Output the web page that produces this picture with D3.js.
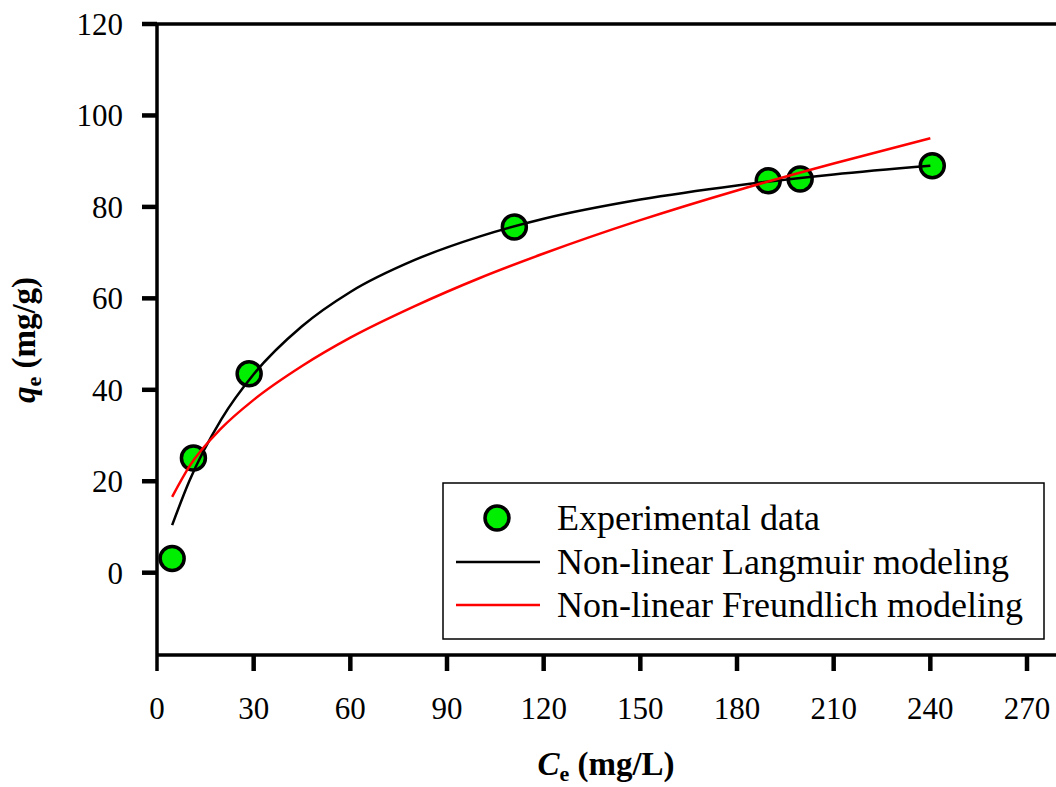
<!DOCTYPE html>
<html>
<head>
<meta charset="utf-8">
<script src="https://cdn.jsdelivr.net/npm/d3@7"></script>
<style>
  body { margin: 0; background: #fff; }
  text { font-family: "Liberation Serif", "Times New Roman", serif; fill: #000; }
  .tick-label { font-size: 31px; }
  .axis-title { font-size: 33px; font-weight: bold; }
  .legend-text { font-size: 36px; }
</style>
</head>
<body>
<div id="chart"></div>
<script>
// experimental points
const ceExp = [4.7, 11.3, 28.6, 110.9, 189.7, 199.6, 240.6];
const qeExp = [3.1, 25.1, 43.5, 75.6, 85.7, 86.1, 89.0];

// model curves
const ceModel = [4.7, 10, 20, 30, 45, 60, 80, 100, 120, 150, 180, 210, 240];
const qeLangmuir = [10.4, 20.0, 33.6, 43.4, 53.9, 61.4, 68.4, 73.5, 77.4, 81.6, 84.7, 87.1, 89.0];
const qeFreundlich = [16.6, 23.2, 31.6, 37.8, 45.2, 51.4, 58.3, 64.4, 69.8, 77.1, 83.6, 89.5, 95.0];

const xTicks = [0, 30, 60, 90, 120, 150, 180, 210, 240, 270];
const yTicks = [0, 20, 40, 60, 80, 100, 120];
const legendLabels = ['Experimental data', 'Non-linear Langmuir modeling', 'Non-linear Freundlich modeling'];

const width = 1056, height = 787;
const plot = {left: 157, right: 1056, top: 24, bottom: 655};

const svg = d3.select('#chart').append('svg')
  .attr('width', width)
  .attr('height', height);

// scales
const x = d3.scaleLinear().domain([0, 279]).range([plot.left, plot.right]);
const y = d3.scaleLinear().domain([-18, 120]).range([plot.bottom, plot.top]);

// frame lines: top, left, bottom
svg.append('line')
  .attr('x1', plot.left - 15).attr('x2', plot.right)
  .attr('y1', plot.top).attr('y2', plot.top)
  .attr('stroke', '#000').attr('stroke-width', 3.5);
svg.append('line')
  .attr('x1', plot.left).attr('x2', plot.left)
  .attr('y1', plot.top).attr('y2', plot.bottom + 16)
  .attr('stroke', '#000').attr('stroke-width', 3.5);
svg.append('line')
  .attr('x1', plot.left).attr('x2', plot.right)
  .attr('y1', plot.bottom).attr('y2', plot.bottom)
  .attr('stroke', '#000').attr('stroke-width', 3.5);

// y ticks
const yAxis = svg.append('g').attr('class', 'y-axis');
yAxis.selectAll('line.tk')
  .data(yTicks)
  .enter().append('line')
    .attr('class', 'tk')
    .attr('x1', plot.left - 15).attr('x2', plot.left)
    .attr('y1', d => y(d)).attr('y2', d => y(d))
    .attr('stroke', '#000').attr('stroke-width', 4.5);
yAxis.selectAll('text')
  .data(yTicks)
  .enter().append('text')
    .attr('class', 'tick-label')
    .attr('x', 123)
    .attr('y', d => y(d) + 11)
    .attr('text-anchor', 'end')
    .text(d => d);

// x ticks
const xAxis = svg.append('g').attr('class', 'x-axis');
xAxis.selectAll('line.tk')
  .data(xTicks.slice(1))
  .enter().append('line')
    .attr('class', 'tk')
    .attr('x1', d => x(d)).attr('x2', d => x(d))
    .attr('y1', plot.bottom).attr('y2', plot.bottom + 16)
    .attr('stroke', '#000').attr('stroke-width', 4.5);
xAxis.selectAll('text')
  .data(xTicks)
  .enter().append('text')
    .attr('class', 'tick-label')
    .attr('x', d => x(d))
    .attr('y', 719)
    .attr('text-anchor', 'middle')
    .text(d => d);

// axis titles
const xTitle = svg.append('text')
  .attr('class', 'axis-title')
  .attr('x', 606).attr('y', 775)
  .attr('text-anchor', 'middle');
xTitle.append('tspan').attr('font-style', 'italic').text('C');
xTitle.append('tspan').attr('font-size', 22).attr('dy', 6).text('e');
xTitle.append('tspan').attr('dy', -6).text(' (mg/L)');

const yTitle = svg.append('text')
  .attr('class', 'axis-title')
  .attr('transform', 'translate(35,340) rotate(-90)')
  .attr('text-anchor', 'middle');
yTitle.append('tspan').attr('font-style', 'italic').text('q');
yTitle.append('tspan').attr('font-size', 22).attr('dy', 6).text('e');
yTitle.append('tspan').attr('dy', -6).text(' (mg/g)');

// experimental markers
const expData = ceExp.map((c, i) => ({c: c, q: qeExp[i]}));
svg.append('g')
  .attr('class', 'points')
  .selectAll('circle')
  .data(expData)
  .enter().append('circle')
    .attr('cx', d => x(d.c))
    .attr('cy', d => y(d.q))
    .attr('r', 12)
    .attr('fill', '#00ee00')
    .attr('stroke', '#000')
    .attr('stroke-width', 3.5);

// model curves
const line = d3.line()
  .x(d => x(d[0]))
  .y(d => y(d[1]))
  .curve(d3.curveMonotoneX);

svg.append('path')
  .datum(ceModel.map((c, i) => [c, qeLangmuir[i]]))
  .attr('d', line)
  .attr('fill', 'none')
  .attr('stroke', '#000')
  .attr('stroke-width', 2.5);

svg.append('path')
  .datum(ceModel.map((c, i) => [c, qeFreundlich[i]]))
  .attr('d', line)
  .attr('fill', 'none')
  .attr('stroke', '#ff0000')
  .attr('stroke-width', 2.5);

// legend
const legend = svg.append('g').attr('class', 'legend');
legend.append('rect')
  .attr('x', 443).attr('y', 483)
  .attr('width', 601).attr('height', 156)
  .attr('fill', '#fff')
  .attr('stroke', '#000')
  .attr('stroke-width', 1.5);

const rowY = [518, 562, 605];
legend.append('circle')
  .attr('cx', 497).attr('cy', rowY[0])
  .attr('r', 12)
  .attr('fill', '#00ee00')
  .attr('stroke', '#000')
  .attr('stroke-width', 3.5);
legend.append('line')
  .attr('x1', 456).attr('x2', 540)
  .attr('y1', rowY[1]).attr('y2', rowY[1])
  .attr('stroke', '#000').attr('stroke-width', 2.5);
legend.append('line')
  .attr('x1', 456).attr('x2', 540)
  .attr('y1', rowY[2]).attr('y2', rowY[2])
  .attr('stroke', '#ff0000').attr('stroke-width', 2.5);

legend.selectAll('text')
  .data(legendLabels)
  .enter().append('text')
    .attr('class', 'legend-text')
    .attr('x', 557)
    .attr('y', (d, i) => rowY[i] + 12)
    .text(d => d);
</script>
</body>
</html>
